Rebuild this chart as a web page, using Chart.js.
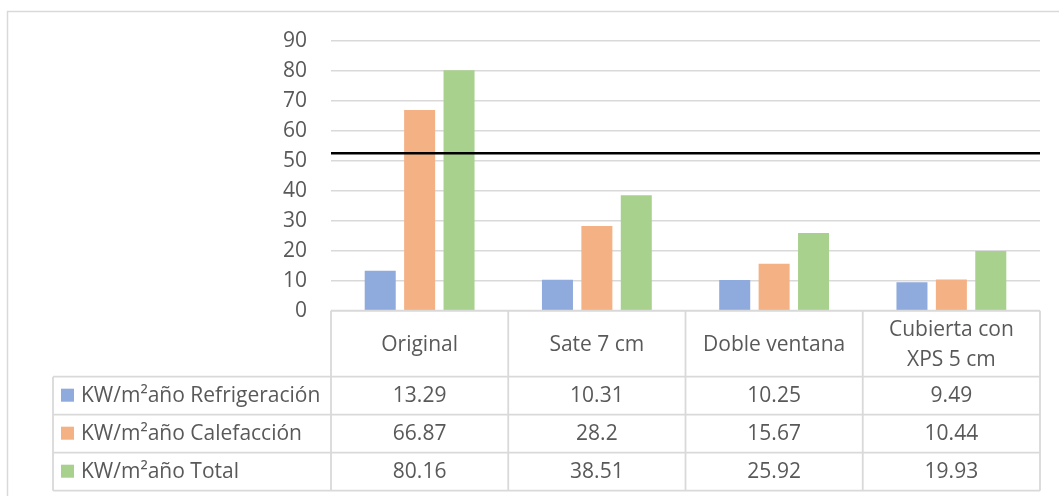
<!DOCTYPE html>
<html lang="es">
<head>
<meta charset="utf-8">
<title>Demanda energética por mejora</title>
<script src="https://cdn.jsdelivr.net/npm/chart.js@4/dist/chart.umd.min.js"></script>
<style>
  html, body { margin: 0; padding: 0; background: #ffffff; }
  #wrap { width: 1059px; height: 496px; }
</style>
</head>
<body>
<div id="wrap"><canvas id="chart" width="1059" height="496"></canvas></div>
<script>
// Scenarios compared (header row of the data table)
const categories = ['Original', 'Sate 7 cm', 'Doble ventana', ['Cubierta con', 'XPS 5 cm']];

// Series names
const seriesNames = ['KW/m²año Refrigeración', 'KW/m²año Calefacción', 'KW/m²año Total'];

// Series values, kWh per m² and year
const refrigeracion = [13.29, 10.31, 10.25, 9.49];
const calefaccion = [66.87, 28.2, 15.67, 10.44];
const total = [80.16, 38.51, 25.92, 19.93];

// Reference limit drawn as a horizontal line
const limite = 52.5;

// Value axis ticks
const yTicks = [0, 10, 20, 30, 40, 50, 60, 70, 80, 90];

const seriesColors = ['#8FAADC', '#F4B183', '#A9D18E'];
const textColor = '#595959';
const lineColor = '#D9D9D9';
const fontFamily = '"Open Sans", Lato, sans-serif';
const fontSize = 21;

const seriesValues = [refrigeracion, calefaccion, total];

// Draws the limit line, the data table under the plot and the outer frame
const tablePlugin = {
  id: 'dataTable',
  afterDatasetsDraw(chart) {
    const { ctx, chartArea: a, scales: { y } } = chart;
    const yl = y.getPixelForValue(limite);
    ctx.save();
    ctx.strokeStyle = '#000000';
    ctx.lineWidth = 2.5;
    ctx.beginPath();
    ctx.moveTo(a.left, yl);
    ctx.lineTo(a.right, yl);
    ctx.stroke();
    ctx.restore();
  },
  afterDraw(chart) {
    const { ctx, chartArea: a, scales: { x } } = chart;
    const n = categories.length;
    const colW = (a.right - a.left) / n;
    const headerH = 66;
    const rowH = 38;
    const legendLeft = 53;
    const top = a.bottom;
    const rowsTop = top + headerH;
    const bottom = rowsTop + rowH * seriesNames.length;

    ctx.save();
    // outer frame of the chart object
    ctx.strokeStyle = lineColor;
    ctx.lineWidth = 1.5;
    ctx.strokeRect(7.5, 11.5, 1070, 500);

    // table grid
    ctx.lineWidth = 1.8;
    ctx.beginPath();
    ctx.moveTo(a.left, top);
    ctx.lineTo(a.right, top);
    for (let r = 0; r <= seriesNames.length; r++) {
      const yy = rowsTop + r * rowH;
      ctx.moveTo(legendLeft, yy);
      ctx.lineTo(a.right, yy);
    }
    for (let c = 0; c <= n; c++) {
      const xx = a.left + c * colW;
      ctx.moveTo(xx, top);
      ctx.lineTo(xx, bottom);
    }
    ctx.moveTo(legendLeft, rowsTop);
    ctx.lineTo(legendLeft, bottom);
    ctx.stroke();

    ctx.fillStyle = textColor;
    ctx.font = `${fontSize}px ${fontFamily}`;
    ctx.textAlign = 'center';
    ctx.textBaseline = 'middle';

    // header row: scenario names
    categories.forEach((cat, i) => {
      const cx = x.getPixelForValue(i);
      const lines = Array.isArray(cat) ? cat : [cat];
      const lh = 30;
      const cy = top + headerH / 2 + 1 - (lines.length - 1) * lh / 2;
      lines.forEach((t, k) => ctx.fillText(t, cx, cy + k * lh));
    });

    // value rows
    seriesValues.forEach((vals, r) => {
      const cy = rowsTop + r * rowH + rowH / 2;
      vals.forEach((v, i) => {
        ctx.fillText(String(v), x.getPixelForValue(i), cy);
      });
      // legend key and series name
      ctx.fillStyle = seriesColors[r];
      ctx.fillRect(61, cy - 7, 13, 13);
      ctx.fillStyle = textColor;
      ctx.textAlign = 'left';
      ctx.fillText(seriesNames[r], 81, cy);
      ctx.textAlign = 'center';
    });
    ctx.restore();
  }
};

new Chart(document.getElementById('chart'), {
  type: 'bar',
  data: {
    labels: categories,
    datasets: seriesNames.map((name, i) => ({
      label: name,
      data: seriesValues[i],
      backgroundColor: seriesColors[i],
      borderWidth: 0,
      categoryPercentage: 0.667,
      barPercentage: 0.787
    }))
  },
  options: {
    responsive: false,
    devicePixelRatio: 1,
    animation: false,
    layout: { padding: { left: 0, top: 40.7, right: 19, bottom: 185.3 } },
    plugins: {
      legend: { display: false },
      tooltip: { enabled: false }
    },
    scales: {
      x: {
        display: false,
        offset: true
      },
      y: {
        min: 0,
        max: 90,
        afterFit(scale) { scale.width = 331; },
        afterBuildTicks(scale) { scale.ticks = yTicks.map(v => ({ value: v })); },
        border: { display: false },
        grid: { color: lineColor, lineWidth: 1.5, drawTicks: false },
        ticks: {
          padding: 24,
          color: textColor,
          font: { family: fontFamily, size: fontSize }
        }
      }
    }
  },
  plugins: [tablePlugin]
});
</script>
</body>
</html>
